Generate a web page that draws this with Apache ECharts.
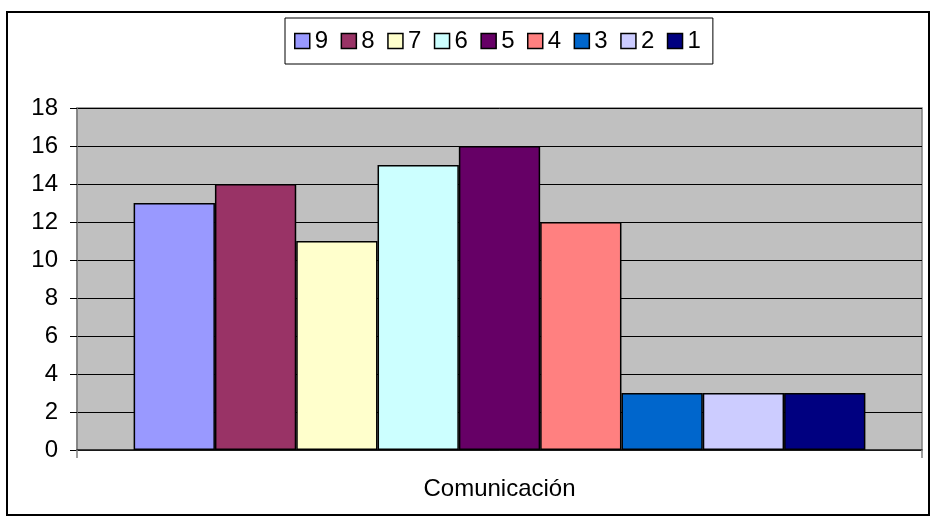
<!DOCTYPE html>
<html>
<head>
<meta charset="utf-8">
<script src="https://cdn.jsdelivr.net/npm/echarts@6/dist/echarts.min.js"></script>
<style>html,body{margin:0;padding:0;background:#fff}#c{width:936px;height:525px}</style>
</head>
<body>
<div id="c"></div>
<script>
const categories = ['Comunicación'];
const seriesNames = ['9','8','7','6','5','4','3','2','1'];
const seriesValues = [13, 14, 11, 15, 16, 12, 3, 3, 3];
const seriesColors = ['#9999FF','#993366','#FFFFCC','#CCFFFF','#660066','#FF8080','#0066CC','#CCCCFF','#000080'];
const yTicks = {min: 0, max: 18, interval: 2};

const chart = echarts.init(document.getElementById('c'), null, {renderer: 'canvas'});
const font = 'Arial, "Liberation Sans", sans-serif';
chart.setOption({
  animation: false,
  backgroundColor: '#fff',
  textStyle: {fontFamily: font},
  graphic: [{
    type: 'rect', z: -10,
    shape: {x: 7, y: 12, width: 922, height: 503},
    style: {fill: '#fff', stroke: '#000', lineWidth: 2}
  }],
  legend: {
    top: 18, left: 285,
    data: seriesNames,
    itemWidth: 15, itemHeight: 15, itemGap: 12.5,
    padding: [11, 12, 11, 9],
    borderColor: '#000', borderWidth: 1,
    backgroundColor: '#fff',
    icon: 'rect',
    itemStyle: {borderColor: '#000', borderWidth: 1.5},
    textStyle: {fontSize: 24, color: '#000', fontFamily: font}
  },
  grid: {
    left: 77, right: 14, top: 108, bottom: 75,
    show: true, backgroundColor: '#C0C0C0', borderColor: '#808080', borderWidth: 1.5
  },
  xAxis: {
    type: 'category',
    data: categories,
    axisLine: {lineStyle: {color: '#202020', width: 1.5}},
    axisTick: {show: true, length: 8, lineStyle: {color: '#808080', width: 1.5}},
    axisLabel: {fontSize: 24, color: '#000', margin: 27, fontFamily: font},
    splitLine: {show: false}
  },
  yAxis: {
    type: 'value',
    min: yTicks.min, max: yTicks.max, interval: yTicks.interval,
    axisLine: {show: true, lineStyle: {color: '#808080', width: 1.5}},
    axisTick: {show: true, length: 7, lineStyle: {color: '#000', width: 1}},
    axisLabel: {fontSize: 24, color: '#000', margin: 19, fontFamily: font},
    splitLine: {show: true, lineStyle: {color: '#000', width: 1}}
  },
  series: seriesNames.map((n, i) => ({
    name: n,
    type: 'bar',
    data: [seriesValues[i]],
    barGap: '0%',
    barCategoryGap: '13.4%',
    itemStyle: {color: seriesColors[i], borderColor: '#000', borderWidth: 1.5}
  }))
});
</script>
</body>
</html>
